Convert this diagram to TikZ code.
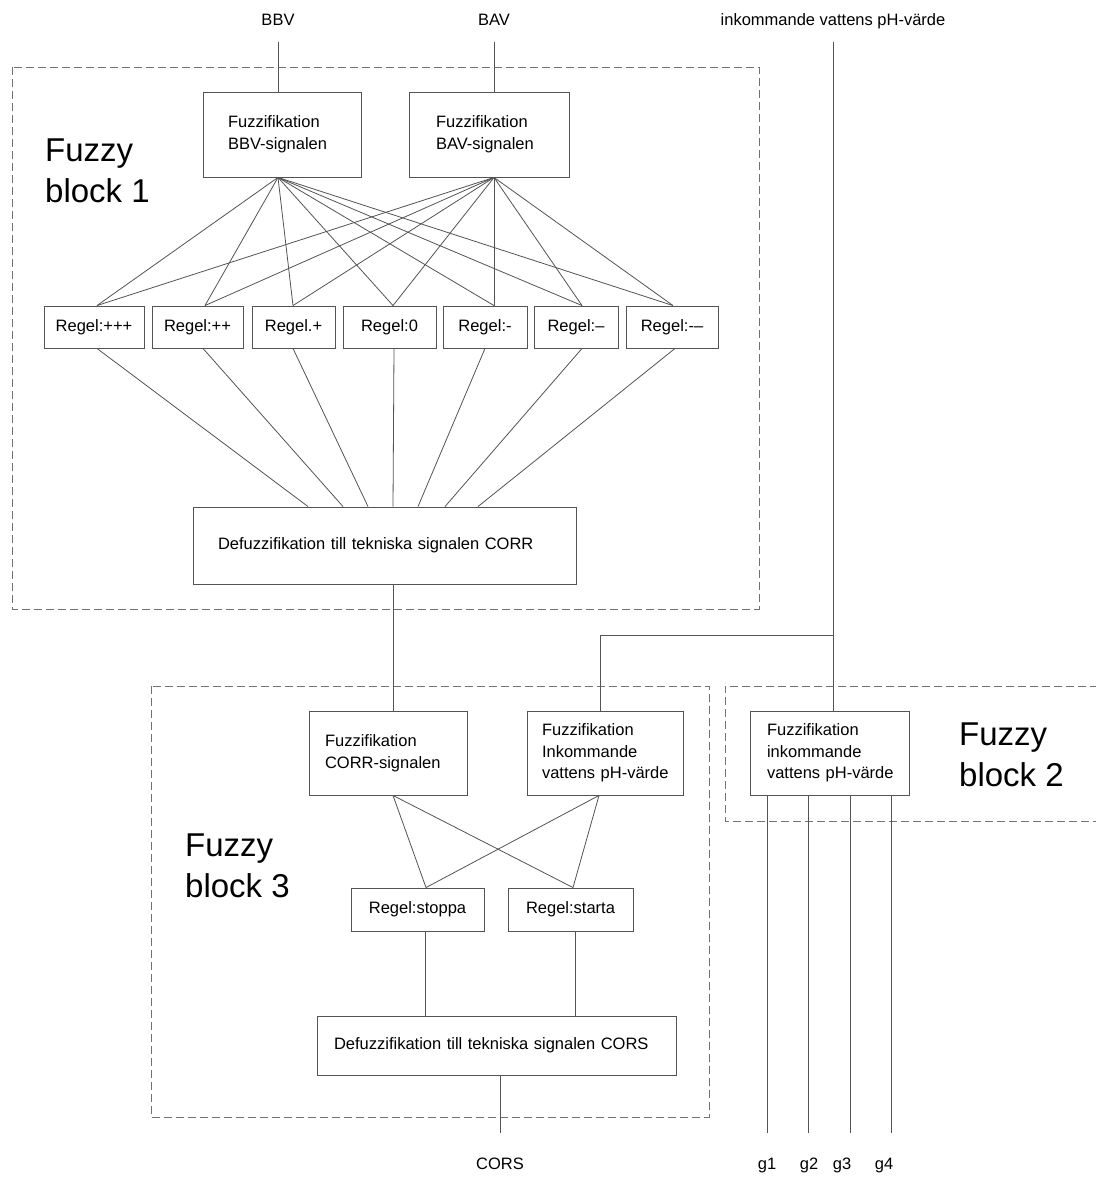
\documentclass[tikz,border=0pt]{standalone}
\usepackage{fontspec}
\setmainfont{Liberation Sans}
\usetikzlibrary{calc}
\definecolor{lc}{gray}{0.33}
\definecolor{dc}{gray}{0.45}
\newcommand\dsmall{\fontsize{16.5}{21.7}\selectfont}
\newcommand\dbig{\fontsize{33}{41}\selectfont}
\begin{document}
\begin{tikzpicture}[x=1pt,y=-1pt,
  conn/.style={draw=lc, line width=0.8pt},
  fbox/.style={draw=lc, line width=0.9pt, inner ysep=0pt, align=left, font=\dsmall},
  rbox/.style={draw=lc, line width=0.9pt, inner sep=0pt, align=center, font=\dsmall, minimum height=42pt},
  grp/.style={draw=dc, line width=0.9pt, dash pattern=on 8pt off 4pt},
  lbl/.style={font=\dsmall, inner sep=0pt},
  big/.style={font=\dbig, align=left, inner sep=0pt, anchor=base west}
]
\useasboundingbox (0,0) rectangle (1095,1177);
\fill[white] (0,0) rectangle (1095,1177);

% groups
\draw[grp] (12,67) rectangle (759,609);
\draw[grp] (151,686) rectangle (709,1117);
\draw[grp] (1110,686) -- (725,686) -- (725,821) -- (1110,821);

% group titles (base = baseline of the last line)
\node[big] (fb1) at (45,203) {Fuzzy\\block 1};
\node[big] (fb2) at (959,786) {Fuzzy\\block 2};
\node[big] (fb3) at (185,897) {Fuzzy\\block 3};

% top labels
\node[lbl, anchor=base] (bbv) at (278,26) {BBV};
\node[lbl, anchor=base] (bav) at (494,26) {BAV};
\node[lbl, anchor=base] (phl) at (833,26) {inkommande vattens pH-värde};

% block 1
\node[fbox, minimum width=158pt, minimum height=85pt, text width=108pt, inner xsep=25pt] (bbvf) at (282,134.5) {\mbox{Fuzzifikation}\\\mbox{BBV-signalen}};
\node[fbox, minimum width=160pt, minimum height=85pt, text width=106pt, inner xsep=27pt] (bavf) at (489,134.5) {\mbox{Fuzzifikation}\\\mbox{BAV-signalen}};

\node[rbox, minimum width=100pt] (r1) at (94,327) {Regel:+++};
\node[rbox, minimum width=91pt] (r2) at (197.5,327) {Regel:++};
\node[rbox, minimum width=83pt] (r3) at (293.5,327) {Regel.+};
\node[rbox, minimum width=93pt] (r4) at (389.5,327) {Regel:0};
\node[rbox, minimum width=84pt] (r5) at (485,327) {Regel:-};
\node[rbox, minimum width=84pt] (r6) at (576,327) {Regel:–};
\node[rbox, minimum width=92pt] (r7) at (672,327) {Regel:-–};

\node[fbox, minimum width=383pt, minimum height=77pt, text width=333pt, inner xsep=25pt] (d1) at (384.5,545.5) {\mbox{Defuzzifikation till tekniska signalen CORR}};

% block 3
\node[fbox, minimum width=158pt, minimum height=84pt, text width=126pt, inner xsep=16pt] (corrf) at (388,753) {\mbox{Fuzzifikation}\\\mbox{CORR-signalen}};
\node[fbox, minimum width=156pt, minimum height=84pt, text width=126pt, inner xsep=15pt] (phf3) at (605,753) {\mbox{Fuzzifikation}\\\mbox{Inkommande}\\\mbox{vattens pH-värde}};
\node[rbox, minimum width=133pt, minimum height=43pt] (stoppa) at (417.5,909.5) {Regel:stoppa};
\node[rbox, minimum width=125pt, minimum height=43pt] (starta) at (570.5,909.5) {Regel:starta};
\node[fbox, minimum width=359pt, minimum height=59pt, text width=325pt, inner xsep=17pt] (d2) at (496.5,1045.5) {\mbox{Defuzzifikation till tekniska signalen CORS}};

% block 2
\node[fbox, minimum width=159pt, minimum height=84pt, text width=125pt, inner xsep=17pt] (phf2) at (829.5,753) {\mbox{Fuzzifikation}\\\mbox{inkommande}\\\mbox{vattens pH-värde}};

% inputs
\coordinate (bbvin) at (278,42);
\coordinate (bavin) at (494,42);
\coordinate (phin) at (833,42);
\draw[conn] (bbvin) -- ([xshift=-4pt]bbvf.north);
\draw[conn] (bavin) -- ([xshift=5pt]bavf.north);
\draw[conn] (phin) -- ([xshift=3.5pt]phf2.north);
\coordinate (phjoin) at (833,635);
\draw[conn] ([xshift=-5pt]phf3.north) |- (phjoin);

% fuzzification to rules
\foreach \r/\o in {r1/3,r2/7.5,r3/-0.5,r4/3.5,r5/9,r6/6,r7/1} {
  \draw[conn] ([xshift=-4pt]bbvf.south) -- ([xshift=\o pt]\r.north);
  \draw[conn] ([xshift=5pt]bavf.south) -- ([xshift=\o pt]\r.north);
}
% rules to defuzzification
\foreach \r/\o/\d in {r1/3/-76.5, r2/5.5/-41.5, r3/-0.5/-16.5, r4/4.5/8.5, r5/0/33.5, r6/6/60.5, r7/3/93.5} {
  \draw[conn] ([xshift=\o pt]\r.south) -- ([xshift=\d pt]d1.north);
}
\draw[conn] ([xshift=8.5pt]d1.south) -- ([xshift=5pt]corrf.north);

% block 3 connections
\draw[conn] ([xshift=5pt]corrf.south) -- ([xshift=8.5pt]stoppa.north);
\draw[conn] ([xshift=5pt]corrf.south) -- ([xshift=2.5pt]starta.north);
\draw[conn] ([xshift=-6pt]phf3.south) -- ([xshift=8.5pt]stoppa.north);
\draw[conn] ([xshift=-6pt]phf3.south) -- ([xshift=2.5pt]starta.north);
\draw[conn] ([xshift=7.5pt]stoppa.south) -- ([xshift=7.5pt]stoppa.south |- d2.north);
\draw[conn] ([xshift=4.5pt]starta.south) -- ([xshift=4.5pt]starta.south |- d2.north);
\coordinate (corsend) at (500,1133);
\draw[conn] ([xshift=3.5pt]d2.south) -- (corsend);
\node[lbl, anchor=base] (cors) at (500,1169) {CORS};

% outputs of block 2
\foreach \i/\x/\lx in {1/767/767, 2/808/809, 3/850/842, 4/891/884} {
  \coordinate (gend\i) at (\x,1133);
  \draw[conn] (phf2.south -| gend\i) -- (gend\i);
  \node[lbl, anchor=base] (g\i) at (\lx,1169) {g\i};
}
\end{tikzpicture}
\end{document}
